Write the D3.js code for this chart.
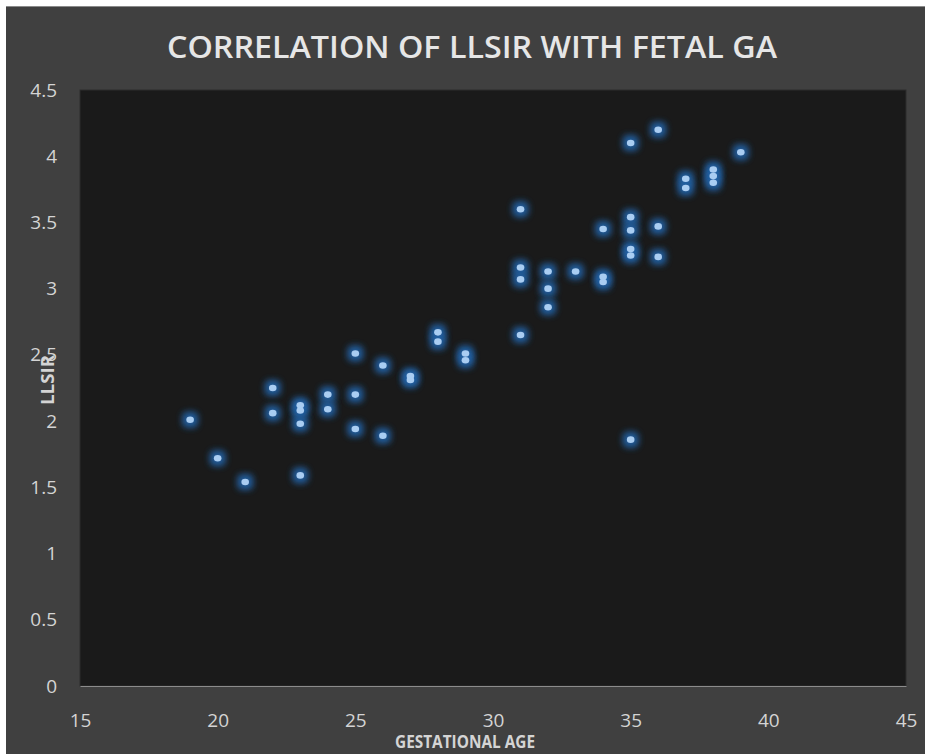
<!DOCTYPE html>
<html>
<head>
<meta charset="utf-8">
<script src="https://cdn.jsdelivr.net/npm/d3@7"></script>
<style>
  html, body { margin: 0; padding: 0; background: #fff; }
  svg { display: block; }
</style>
</head>
<body>
<svg id="chart" width="925" height="754"></svg>
<script>
// gestational age (weeks) and LLSIR
const gestAge = [19, 20, 21, 22, 22, 23, 23, 23, 23, 24, 24, 25, 25, 25, 26, 26, 27, 27, 28, 28, 29, 29,
                 31, 31, 31, 31, 32, 32, 32, 33, 34, 34, 34, 35, 35, 35, 35, 35, 35, 36, 36, 36, 37, 37, 38, 38, 38, 39];
const llsir = [2.01, 1.72, 1.54, 2.25, 2.06, 2.08, 2.12, 1.98, 1.59, 2.20, 2.09, 2.51, 2.20, 1.94, 2.42, 1.89, 2.31, 2.34, 2.67, 2.60, 2.51, 2.46,
               3.60, 3.16, 3.07, 2.65, 3.13, 3.00, 2.86, 3.13, 3.45, 3.05, 3.09, 4.10, 3.54, 3.44, 3.30, 3.25, 1.86, 4.20, 3.47, 3.24, 3.83, 3.76, 3.90, 3.85, 3.80, 4.03];
const xTicks = [15, 20, 25, 30, 35, 40, 45];
const yTicks = [0, 0.5, 1, 1.5, 2, 2.5, 3, 3.5, 4, 4.5];
const title = "CORRELATION OF LLSIR WITH FETAL GA";
const xTitle = "GESTATIONAL AGE";
const yTitle = "LLSIR";

const svg = d3.select("#chart");
const plot = { left: 80, right: 906, top: 90, bottom: 686 };
const font = "'Open Sans', 'DejaVu Sans', sans-serif";

const x = d3.scaleLinear().domain([15, 45]).range([plot.left, plot.right]);
const y = d3.scaleLinear().domain([0, 4.5]).range([plot.bottom, plot.top]);

// glow filter for the markers
const defs = svg.append("defs");
defs.append("filter").attr("id", "glow")
  .attr("x", "-100%").attr("y", "-100%").attr("width", "300%").attr("height", "300%")
  .append("feGaussianBlur").attr("stdDeviation", 3);

// chart background
svg.append("rect").attr("x", 6).attr("y", 6).attr("width", 919).attr("height", 748).attr("fill", "#404040");
svg.append("line").attr("x1", 6).attr("x2", 925).attr("y1", 6.5).attr("y2", 6.5).attr("stroke", "#8a8a8a");

// plot area
svg.append("rect")
  .attr("x", plot.left).attr("y", plot.top)
  .attr("width", plot.right - plot.left).attr("height", plot.bottom - plot.top)
  .attr("fill", "#1a1a1a").attr("stroke", "#2c2c2c");

// title
svg.append("text")
  .attr("x", 472).attr("y", 58)
  .attr("text-anchor", "middle")
  .attr("font-family", font).attr("font-size", 30).attr("font-weight", 600)
  .attr("fill", "#e6e6e6")
  .attr("textLength", 610).attr("lengthAdjust", "spacingAndGlyphs")
  .text(title);

// axes
const xAxis = svg.append("g")
  .attr("transform", `translate(0,${plot.bottom})`)
  .call(d3.axisBottom(x).tickValues(xTicks).tickSize(0).tickPadding(28).tickFormat(d3.format("d")));
xAxis.select(".domain").attr("stroke", "#8c8c8c");

const yAxis = svg.append("g")
  .attr("transform", `translate(${plot.left},0)`)
  .call(d3.axisLeft(y).tickValues(yTicks).tickSize(0).tickPadding(23).tickFormat(d => String(d)));
yAxis.select(".domain").remove();

svg.selectAll(".tick text")
  .attr("font-family", font).attr("font-size", 19)
  .attr("fill", "#d4d4d4");

// axis titles
svg.append("text")
  .attr("x", 465).attr("y", 748)
  .attr("text-anchor", "middle")
  .attr("font-family", font).attr("font-size", 18).attr("font-weight", 700)
  .attr("fill", "#d4d4d4")
  .attr("textLength", 140).attr("lengthAdjust", "spacingAndGlyphs")
  .text(xTitle);

svg.append("text")
  .attr("transform", "translate(54,380) rotate(-90)")
  .attr("text-anchor", "middle")
  .attr("font-family", font).attr("font-size", 18).attr("font-weight", 700)
  .attr("fill", "#d4d4d4")
  .attr("textLength", 50).attr("lengthAdjust", "spacingAndGlyphs")
  .text(yTitle);

// markers
const pts = gestAge.map((g, i) => ({ g, v: llsir[i] }));
const marks = svg.append("g");
marks.selectAll("rect.halo")
  .data(pts).join("rect").attr("class", "halo")
  .attr("x", d => x(d.g) - 8).attr("y", d => y(d.v) - 8)
  .attr("width", 16).attr("height", 16).attr("rx", 5)
  .attr("fill", "#2463a8").attr("opacity", 0.9)
  .attr("filter", "url(#glow)");
marks.selectAll("ellipse.dot")
  .data(pts).join("ellipse").attr("class", "dot")
  .attr("cx", d => x(d.g)).attr("cy", d => y(d.v))
  .attr("rx", 3.8).attr("ry", 3.3)
  .attr("fill", "#a9cdf2");
</script>
</body>
</html>
